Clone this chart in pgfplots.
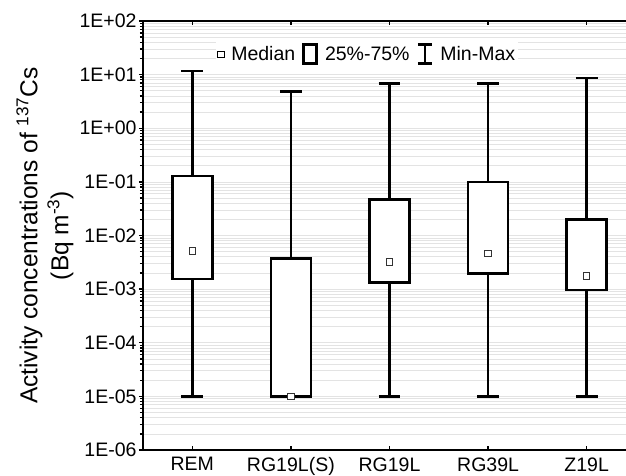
\documentclass[border=0pt]{standalone}
\usepackage{pgfplots}
\pgfplotsset{compat=1.18}
\usepackage{fontspec}
\setmainfont{Liberation Sans}
\begin{document}
\begin{tikzpicture}
\begin{axis}[
  scale only axis, width=483bp, height=429bp,
  at={(0,0)}, anchor=south west,
  xmin=-0.5, xmax=4.399,
  ymode=log, ymin=1e-6, ymax=1e2,
  axis x line*=box, axis y line*=left,
  axis line style={line width=2.5bp, black},
  xtick={0,1,2,3,4},
  xticklabels={REM,RG19L(S),RG19L,RG39L,Z19L},
  xtick align=inside,
  ytick={1e-6,1e-5,1e-4,1e-3,1e-2,1e-1,1e0,1e1,1e2},
  yticklabels={1E-06,1E-05,1E-04,1E-03,1E-02,1E-01,1E+00,1E+01,1E+02},
  ytick align=outside,
  major tick length=4bp, minor tick length=3bp,
  every tick/.style={black, line width=1.3bp},
  tick label style={font=\fontsize{19.5bp}{22bp}\selectfont, black},
  xticklabel style={yshift=-4bp},
  yticklabel style={xshift=1bp},
  ymajorgrids, yminorgrids,
  major grid style={gray!22, line width=0.7bp},
  minor grid style={gray!22, line width=0.7bp},
  ylabel={Activity concentrations of \textsuperscript{137}Cs\\(Bq m\textsuperscript{-3})},
  ylabel style={at={(axis description cs:-0.203,0.5)}, anchor=center, align=center,
    font=\fontsize{24.5bp}{31bp}\selectfont},
  legend style={at={(0.464,0.923)}, anchor=center, draw=none, fill=white,
    inner sep=1bp, font=\fontsize{19.5bp}{22bp}\selectfont,
    /tikz/every odd column/.append style={column sep=5bp},
    /tikz/every even column/.append style={column sep=5bp}},
  legend columns=3,
  wh/.style={black, line width=2.5bp, no markers, forget plot, line cap=butt},
  bx/.style={black, line width=2.5bp, no markers, forget plot, fill=white, line join=miter},
]
% legend entries
\addlegendimage{legend image code/.code={\draw[black, line width=0.8bp, fill=white] (0bp,-3.2bp) rectangle (6.4bp,3.2bp);}}
\addlegendentry{Median}
\addlegendimage{legend image code/.code={\draw[black, line width=2.8bp] (0bp,-9bp) rectangle (13bp,9.5bp);}}
\addlegendentry{25\%-75\%}
\addlegendimage{legend image code/.code={\draw[black, line width=2.8bp] (7bp,-9bp)--(7bp,9.5bp) (0bp,-9bp)--(14bp,-9bp) (0bp,9.5bp)--(14bp,9.5bp);}}
\addlegendentry{Min-Max}

% REM: min 1e-5, q1 0.00155, med 0.0052, q3 0.128, max 11.8
\addplot[wh] coordinates {(0,1e-5) (0,11.8)};
\addplot[wh] coordinates {(-0.11,1e-5) (0.11,1e-5)};
\addplot[wh] coordinates {(-0.11,11.8) (0.11,11.8)};
\addplot[bx] coordinates {(-0.203,0.00155) (0.203,0.00155) (0.203,0.128) (-0.203,0.128) (-0.203,0.00155) (0.203,0.00155)};

% RG19L(S): min 1e-5, q1 1e-5, med 1e-5, q3 0.0037, max 4.8
\addplot[wh] coordinates {(1,1e-5) (1,4.8)};
\addplot[wh] coordinates {(0.89,4.8) (1.11,4.8)};
\addplot[bx] coordinates {(0.797,1e-5) (1.203,1e-5) (1.203,0.0037) (0.797,0.0037) (0.797,1e-5) (1.203,1e-5)};

% RG19L: min 1e-5, q1 0.00133, med 0.0032, q3 0.047, max 6.9
\addplot[wh] coordinates {(2,1e-5) (2,6.9)};
\addplot[wh] coordinates {(1.89,1e-5) (2.11,1e-5)};
\addplot[wh] coordinates {(1.89,6.9) (2.11,6.9)};
\addplot[bx] coordinates {(1.797,0.00133) (2.203,0.00133) (2.203,0.047) (1.797,0.047) (1.797,0.00133) (2.203,0.00133)};

% RG39L: min 1e-5, q1 0.00196, med 0.0046, q3 0.10, max 6.9
\addplot[wh] coordinates {(3,1e-5) (3,6.9)};
\addplot[wh] coordinates {(2.89,1e-5) (3.11,1e-5)};
\addplot[wh] coordinates {(2.89,6.9) (3.11,6.9)};
\addplot[bx] coordinates {(2.797,0.00196) (3.203,0.00196) (3.203,0.10) (2.797,0.10) (2.797,0.00196) (3.203,0.00196)};

% Z19L: min 1e-5, q1 0.00096, med 0.00177, q3 0.020, max 8.6
\addplot[wh] coordinates {(4,1e-5) (4,8.6)};
\addplot[wh] coordinates {(3.89,1e-5) (4.11,1e-5)};
\addplot[wh] coordinates {(3.89,8.6) (4.11,8.6)};
\addplot[bx] coordinates {(3.797,0.00096) (4.203,0.00096) (4.203,0.020) (3.797,0.020) (3.797,0.00096) (4.203,0.00096)};

% medians
\addplot[only marks, mark=square*, mark size=3.2bp, forget plot,
  mark options={fill=white, draw=black!80, line width=0.8bp}]
  coordinates {(0,0.0052) (1,1e-5) (2,0.0032) (3,0.0046) (4,0.00177)};
\end{axis}
\pgfresetboundingbox
\useasboundingbox (-143bp,-26bp) rectangle (483bp,450bp);
\end{tikzpicture}
\end{document}
